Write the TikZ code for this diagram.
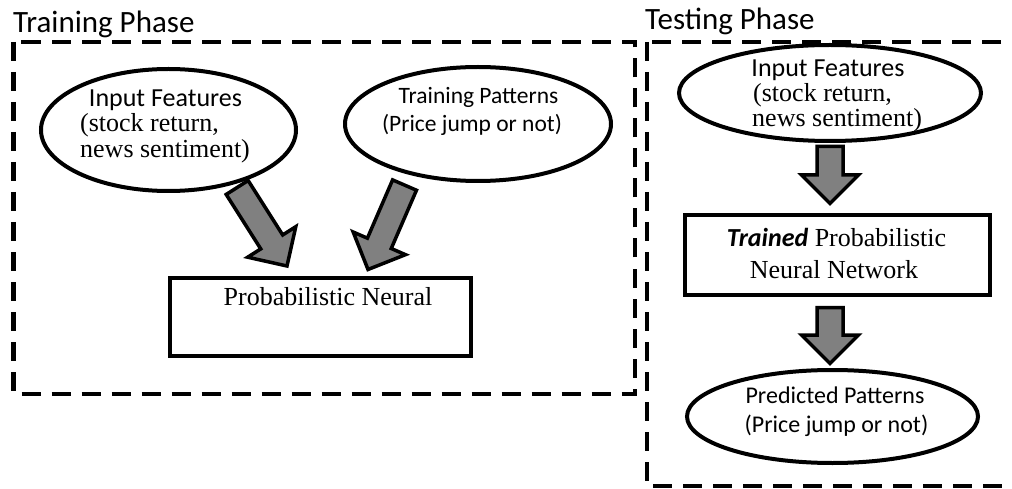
\documentclass[tikz,border=0pt]{standalone}
\usepackage{fontspec}
\setmainfont{Liberation Serif}
\newfontfamily\carl{Carlito}
\usetikzlibrary{calc,shapes.geometric}
\definecolor{arrowgray}{HTML}{808080}
\begin{document}
\begin{tikzpicture}[x=1pt,y=-1pt,
  frame/.style={line width=4.5pt, dash pattern=on 19pt off 11pt},
  ell/.style={draw, ellipse, line width=4pt, inner sep=0pt},
  box/.style={draw, rectangle, line width=4pt, inner sep=0pt},
  ttl/.style={font=\carl\fontsize{31}{31}\selectfont, inner sep=0pt, anchor=base west},
  sans/.style={font=\carl\fontsize{26}{26}\selectfont, inner sep=0pt},
  sanssm/.style={font=\carl\fontsize{23.5}{23.5}\selectfont, inner sep=0pt},
  sansmd/.style={font=\carl\fontsize{24}{24}\selectfont, inner sep=0pt},
  serif/.style={font=\fontsize{26}{26}\selectfont, inner sep=0pt},
  blk/.style={draw, line width=3.5pt, fill=arrowgray, line join=miter},
  pics/blockarr/.style={code={\draw[blk] (0,0) -- (-28.5,-28.5) -- (-28.5,-13) -- (-#1,-13) -- (-#1,13) -- (-28.5,13) -- (-28.5,28.5) -- cycle;}}
]
\useasboundingbox (0,0) rectangle (1012,489);
\clip (0,0) rectangle (1012,489);

% frames and titles
\draw[frame] (13.5,42) rectangle (635,394);
\draw[frame] (647,42) rectangle (1040,486);
\node[ttl] (ttrain) at (13,33) {Training Phase};
\node[ttl] (ttest) at (645,30) {Testing Phase};

% training phase nodes
\node[ell, minimum width=255, minimum height=122] (in1) at (168.5,130) {};
\node[sans, anchor=base] (in1a) at ($(in1.center)+(-3,-23)$) {Input Features};
\node[serif, anchor=base west] (in1b) at ($(in1.center)+(-88.5,2)$) {(stock return,};
\node[serif, anchor=base west] (in1c) at ($(in1.center)+(-88.5,28)$) {news sentiment)};

\node[ell, minimum width=266, minimum height=114] (tp) at (478,124) {};
\node[sanssm, anchor=base] (tpa) at ($(tp.center)+(0.5,-20)$) {Training Patterns};
\node[sanssm, anchor=base] (tpb) at ($(tp.center)+(-6,7.5)$) {(Price jump or not)};

\node[box, minimum width=301, minimum height=78] (pnn) at (320.5,317) {};
\node[serif, anchor=base] (pnna) at ($(pnn.center)+(7.5,-12)$) {Probabilistic Neural};

% training arrows
\coordinate (a1) at (287,266);
\coordinate (a2) at (368,269.5);
\pic[rotate=-57.6] at (a1) {blockarr=93};
\pic[rotate=-113.4] at (a2) {blockarr=92};

% testing phase nodes
\node[ell, minimum width=302, minimum height=96] (te) at (830,93) {};
\node[sans, anchor=base] (tea) at ($(te.center)+(-2,-16)$) {Input Features};
\node[serif, anchor=base west] (teb) at ($(te.center)+(-77,8.7)$) {(stock return,};
\node[serif, anchor=base west] (tec) at ($(te.center)+(-78,33.7)$) {news sentiment)};

\node[box, minimum width=305, minimum height=80] (tr) at (837.5,255) {};
\node[serif, anchor=base] (tra) at ($(tr.center)+(-1,-8)$) {{\carl\bfseries\itshape Trained} Probabilistic};
\node[serif, anchor=base] (trb) at ($(tr.center)+(-3.5,23)$) {Neural Network};

\node[ell, minimum width=291, minimum height=93] (pp) at (832.5,416.5) {};
\node[sansmd, anchor=base] (ppa) at ($(pp.center)+(2.5,-13.5)$) {Predicted Patterns};
\node[sansmd, anchor=base] (ppb) at ($(pp.center)+(4,15.5)$) {(Price jump or not)};

% testing arrows
\coordinate (a3) at ($(tr.north)+(-7.5,-9.5)$);
\coordinate (a4) at ($(pp.north)+(-2.5,-4.5)$);
\pic[rotate=-90] at (a3) {blockarr=57};
\pic[rotate=-90] at (a4) {blockarr=56};
\end{tikzpicture}
\end{document}
